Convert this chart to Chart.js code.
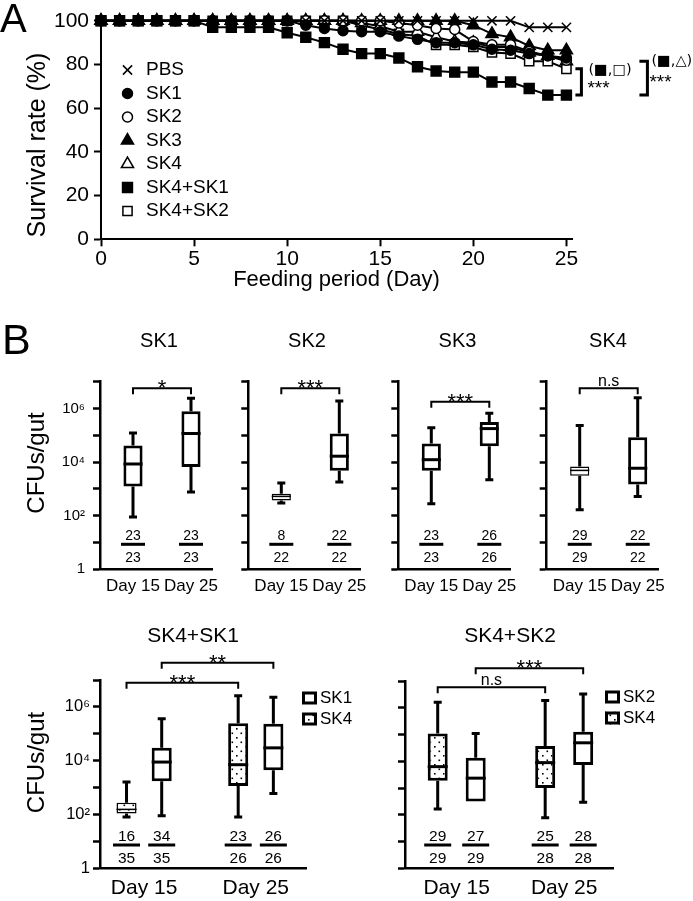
<!DOCTYPE html>
<html>
<head>
<meta charset="utf-8">
<script src="https://cdn.jsdelivr.net/npm/chart.js@4.4.1/dist/chart.umd.min.js"></script>
<style>
  body { margin: 0; background: #fff; }
  #page { position: relative; width: 693px; height: 901px; overflow: hidden; font-family: "Liberation Sans", Arial, sans-serif; }
  #page canvas { position: absolute; }
  .panel { position: absolute; line-height: 1; color: #000; }
</style>
</head>
<body>
<div id="page">
  <canvas id="survival" width="693" height="300" style="left:0;top:0"></canvas>
  <canvas id="cfuSK1" width="225" height="300" style="left:0;top:300px"></canvas>
  <canvas id="cfuSK2" width="150" height="300" style="left:225px;top:300px"></canvas>
  <canvas id="cfuSK3" width="150" height="300" style="left:375px;top:300px"></canvas>
  <canvas id="cfuSK4" width="168" height="300" style="left:525px;top:300px"></canvas>
  <canvas id="cfuMix1" width="360" height="301" style="left:0;top:600px"></canvas>
  <canvas id="cfuMix2" width="333" height="301" style="left:360px;top:600px"></canvas>
  <div class="panel" style="left:0;top:-2px;font-size:40px">A</div>
  <div class="panel" style="left:2px;top:318px;font-size:43px">B</div>
</div>
<script>
const FONT = '"Liberation Sans", Arial, sans-serif';
Chart.defaults.font.family = FONT;
Chart.defaults.color = '#000';
Chart.defaults.animation = false;

// ---------- A: survival rate (%) by feeding day ----------
const days = [0, 1, 2, 3, 4, 5, 6, 7, 8, 9, 10, 11, 12, 13, 14, 15, 16, 17, 18, 19, 20, 21, 22, 23, 24, 25];
const dayTicks = [0, 5, 10, 15, 20, 25];
const survivalTicks = [0, 20, 40, 60, 80, 100];

const survPBS   = [100, 100, 100, 100, 100, 100, 100, 100, 100, 100, 100, 100, 100, 100, 100, 100, 100, 100, 100, 100, 100, 100, 100, 97, 97, 97];
const survSK1   = [100, 100, 100, 100, 100, 100, 100, 100, 100, 100, 100, 98, 96.5, 95.5, 95, 95, 93, 91.5, 90, 90, 89, 87, 86.5, 85, 84, 83];
const survSK2   = [100, 100, 100, 100, 100, 100, 100, 100, 100, 100, 100, 100, 100, 100, 100, 100, 99, 98, 96.5, 96, 90.5, 89, 89, 86, 84, 82];
const survSK3   = [100, 100, 100, 100, 100, 100, 100, 100, 100, 100, 100, 100, 100, 100, 100, 100, 100, 100, 100, 100, 98, 94, 92.5, 88.5, 86.5, 86.5];
const survSK4   = [100, 100, 100, 100, 100, 100, 100, 100, 100, 100, 100, 100, 100, 100, 99, 97.5, 95, 95, 92.5, 90.5, 90, 88, 88, 85.5, 84, 81.5];
const survMix1  = [100, 100, 100, 100, 100, 100, 97, 97, 97, 97, 94.5, 92.5, 90, 87, 85, 85, 83, 79, 77, 76.5, 76.5, 72, 72, 69, 66, 66];
const survMix2  = [100, 100, 100, 100, 100, 100, 100, 100, 100, 100, 100, 100, 100, 100, 98, 96, 94, 93, 89, 89, 88, 85.5, 85, 81.5, 81.5, 78];

const survivalSeries = [
  { label: 'PBS',     values: survPBS,  style: 'crossRot', fill: '#000', r: 6.5 },
  { label: 'SK1',     values: survSK1,  style: 'circle',   fill: '#000', r: 5 },
  { label: 'SK2',     values: survSK2,  style: 'circle',   fill: '#fff', r: 5 },
  { label: 'SK3',     values: survSK3,  style: 'triangle', fill: '#000', r: 7 },
  { label: 'SK4',     values: survSK4,  style: 'triangle', fill: '#fff', r: 7 },
  { label: 'SK4+SK1', values: survMix1, style: 'rect',     fill: '#000', r: 7 },
  { label: 'SK4+SK2', values: survMix2, style: 'rect',     fill: '#fff', r: 6.5 }
];

const survivalDeco = {
  id: 'survivalDeco',
  afterDatasetsDraw(chart) {
    const { ctx } = chart;
    const { x, y } = chart.scales;
    ctx.save();
    // legend
    chart.data.datasets.forEach((ds, i) => {
      const ly = 70 + i * 23.5;
      ctx.fillStyle = ds.pointBackgroundColor;
      ctx.strokeStyle = '#000';
      ctx.lineWidth = ds.pointBorderWidth;
      Chart.helpers.drawPoint(ctx, { pointStyle: ds.pointStyle, radius: ds.pointRadius, borderWidth: ds.pointBorderWidth, rotation: 0 }, 127.5, ly);
      ctx.fillStyle = '#000';
      ctx.font = '19px ' + FONT;
      ctx.textAlign = 'left';
      ctx.textBaseline = 'middle';
      ctx.fillText(ds.label, 146, ly);
    });
    // y axis title
    ctx.save();
    ctx.translate(38, 145);
    ctx.rotate(-Math.PI / 2);
    ctx.font = '25px ' + FONT;
    ctx.textAlign = 'center';
    ctx.fillText('Survival rate (%)', 0, 0);
    ctx.restore();
    // significance brackets at day 25
    const last = days.length - 1;
    const x25 = x.getPixelForValue(days[last]);
    const yLow = y.getPixelForValue(survMix1[last]);
    const yA = y.getPixelForValue(survMix2[last]);
    const yB = y.getPixelForValue(survSK4[last]);
    ctx.lineWidth = 3;
    ctx.beginPath();
    ctx.moveTo(x25 + 9, yA); ctx.lineTo(x25 + 15, yA); ctx.lineTo(x25 + 15, yLow); ctx.lineTo(x25 + 9, yLow);
    ctx.moveTo(x25 + 73, yB); ctx.lineTo(x25 + 81, yB); ctx.lineTo(x25 + 81, yLow); ctx.lineTo(x25 + 73, yLow);
    ctx.stroke();
    ctx.textAlign = 'left';
    ctx.font = '14.5px "DejaVu Sans", sans-serif';
    ctx.textBaseline = 'middle';
    ctx.fillText('(\u25A0,\u25A1)', x25 + 22, yA + 1);
    ctx.fillText('(\u25A0,\u25B3)', x25 + 85, yB);
    ctx.font = '19px ' + FONT;
    ctx.textBaseline = 'alphabetic';
    ctx.fillText('***', x25 + 21, yLow - 1);
    ctx.fillText('***', x25 + 83, yLow - 7);
    ctx.restore();
  }
};

new Chart(document.getElementById('survival'), {
  type: 'line',
  data: {
    datasets: survivalSeries.map(s => ({
      label: s.label,
      data: s.values.map((v, i) => ({ x: days[i], y: v })),
      borderColor: '#000',
      borderWidth: 2,
      pointStyle: s.style,
      pointRadius: s.r,
      pointBackgroundColor: s.fill,
      pointBorderColor: '#000',
      pointBorderWidth: 1.5,
      tension: 0,
      clip: false
    }))
  },
  options: {
    responsive: false,
    layout: { padding: { left: 0, top: 20.8, right: 121, bottom: 0 } },
    plugins: { legend: { display: false }, tooltip: { enabled: false } },
    scales: {
      x: {
        type: 'linear', min: 0, max: 25.3,
        afterBuildTicks: s => { s.ticks = dayTicks.map(v => ({ value: v })); },
        ticks: { font: { size: 21 }, padding: 0, maxRotation: 0 },
        grid: { drawOnChartArea: false, tickLength: 7, tickWidth: 2, color: '#000' },
        border: { width: 2, color: '#000' },
        title: { display: true, text: 'Feeding period (Day)', font: { size: 22 }, padding: { top: 0, bottom: 7 } },
        afterFit: s => { s.height = 60.7; s.paddingLeft = 0; s.paddingRight = 0; }
      },
      y: {
        min: 0, max: 100,
        afterBuildTicks: s => { s.ticks = survivalTicks.map(v => ({ value: v })); },
        ticks: { font: { size: 21 }, padding: 5 },
        grid: { drawOnChartArea: false, tickLength: 7, tickWidth: 2, color: '#000' },
        border: { width: 2, color: '#000' },
        afterFit: s => { s.width = 101; s.paddingTop = 0; s.paddingBottom = 0; }
      }
    }
  },
  plugins: [survivalDeco]
});

// ---------- B: CFUs/gut, five-number summaries [min, q1, median, q3, max] ----------
const sampleDays = ['Day 15', 'Day 25'];
const cfuTicks = [1, 10, 1e2, 1e3, 1e4, 1e5, 1e6, 1e7];
const cfuTickLabels = ['1', '', '10\u00B2', '', '10\u2074', '', '10\u2076', ''];

const sk1Day15 = [89, 1230, 8500, 41700, 123000];
const sk1Day25 = [760, 6600, 117000, 794000, 2400000];
const sk2Day15 = [295, 372, 525, 660, 1660];
const sk2Day25 = [1820, 4800, 16600, 117000, 1900000];
const sk3Day15 = [280, 4800, 12300, 49000, 190000];
const sk3Day25 = [2200, 39000, 178000, 316000, 660000];
const sk4Day15 = [166, 3100, 4900, 6900, 234000];
const sk4Day25 = [525, 1450, 5900, 85000, 2500000];

const mix1SK4Day15 = [81, 110, 155, 275, 1620];
const mix1SK4Day25 = [81, 1150, 7100, 245000, 2600000];
const mix1SK1Day15 = [89, 1740, 8900, 30000, 363000];
const mix1SK1Day25 = [600, 4400, 30000, 234000, 2300000];
const mix2SK4Day15 = [166, 1860, 6300, 110000, 1600000];
const mix2SK4Day25 = [78, 1000, 8900, 37000, 1860000];
const mix2SK2Day15 = [316, 316, 2340, 13500, 110000];
const mix2SK2Day25 = [295, 7200, 49000, 126000, 3300000];

// colonised flies / flies examined
const sk1Pos = [23, 23], sk1Tot = [23, 23];
const sk2Pos = [8, 22],  sk2Tot = [22, 22];
const sk3Pos = [23, 26], sk3Tot = [23, 26];
const sk4Pos = [29, 22], sk4Tot = [29, 22];
const mix1SK4Pos = [16, 23], mix1SK4Tot = [35, 26];
const mix1SK1Pos = [34, 26], mix1SK1Tot = [35, 26];
const mix2SK4Pos = [29, 25], mix2SK4Tot = [29, 28];
const mix2SK2Pos = [27, 28], mix2SK2Tot = [29, 28];

function makeDots() {
  const c = document.createElement('canvas');
  c.width = 9; c.height = 9;
  const g = c.getContext('2d');
  g.fillStyle = '#fff'; g.fillRect(0, 0, 9, 9);
  g.fillStyle = '#000';
  g.fillRect(2, 2, 1.6, 1.6);
  g.fillRect(6.5, 6.5, 1.6, 1.6);
  return g.createPattern(c, 'repeat');
}
const dots = makeDots();

const narrow = b => b[3] / b[1] < 3.2;

function boxDeco(o) {
  return {
    id: 'boxDeco',
    beforeDatasetsDraw(chart) {
      const { ctx } = chart;
      const y = chart.scales.y;
      ctx.save();
      ctx.strokeStyle = '#000';
      ctx.lineWidth = 3;
      chart.data.datasets.forEach((ds, di) => {
        chart.getDatasetMeta(di).data.forEach((bar, i) => {
          const [lo, q1, , q3, hi] = ds.stats[i];
          const x = bar.x;
          ctx.beginPath();
          ctx.moveTo(x, y.getPixelForValue(q3)); ctx.lineTo(x, y.getPixelForValue(hi));
          ctx.moveTo(x - 4, y.getPixelForValue(hi)); ctx.lineTo(x + 4, y.getPixelForValue(hi));
          if (lo < q1) {
            ctx.moveTo(x, y.getPixelForValue(q1)); ctx.lineTo(x, y.getPixelForValue(lo));
            ctx.moveTo(x - 4, y.getPixelForValue(lo)); ctx.lineTo(x + 4, y.getPixelForValue(lo));
          }
          ctx.stroke();
        });
      });
      ctx.restore();
    },
    afterDatasetsDraw(chart) {
      const { ctx, chartArea } = chart;
      const y = chart.scales.y;
      ctx.save();
      ctx.strokeStyle = '#000';
      ctx.fillStyle = '#000';
      const metas = chart.data.datasets.map((ds, di) => chart.getDatasetMeta(di));
      chart.data.datasets.forEach((ds, di) => {
        metas[di].data.forEach((bar, i) => {
          const b = ds.stats[i];
          // median
          ctx.lineWidth = narrow(b) ? 1.5 : 3;
          const ym = y.getPixelForValue(b[2]);
          ctx.beginPath();
          ctx.moveTo(bar.x - bar.width / 2, ym); ctx.lineTo(bar.x + bar.width / 2, ym);
          ctx.stroke();
          // fraction
          const ly = chartArea.bottom - o.fracOff;
          ctx.fillRect(bar.x - o.fracW / 2, ly - 1.5, o.fracW, 3);
          ctx.font = o.fracSize + 'px ' + FONT;
          ctx.textAlign = 'center';
          ctx.textBaseline = 'alphabetic';
          ctx.fillText(String(ds.positive[i]), bar.x, ly - 4.5);
          ctx.fillText(String(ds.total[i]), bar.x, ly + 18);
        });
      });
      // significance brackets
      ctx.lineWidth = 2;
      o.brackets.forEach(([da, ia, db, ib, off, text]) => {
        const xa = metas[da].data[ia].x, xb = metas[db].data[ib].x;
        const yb = chartArea.top + off;
        ctx.beginPath();
        ctx.moveTo(xa, yb + 6); ctx.lineTo(xa, yb); ctx.lineTo(xb, yb); ctx.lineTo(xb, yb + 6);
        ctx.stroke();
        ctx.textAlign = 'center';
        ctx.textBaseline = 'alphabetic';
        if (text.includes('*')) {
          ctx.font = '22px ' + FONT;
          ctx.fillText(text, (xa + xb) / 2, yb + 7);
        } else {
          ctx.font = '16px ' + FONT;
          ctx.fillText(text, (xa + xb) / 2, yb - 2);
        }
      });
      // panel title
      ctx.font = o.titleSize + 'px ' + FONT;
      ctx.textAlign = 'center';
      ctx.textBaseline = 'middle';
      ctx.fillText(o.title, o.titleX, o.titleY);
      // y axis title
      if (o.yTitle) {
        ctx.save();
        ctx.translate(o.yTitle[0], o.yTitle[1]);
        ctx.rotate(-Math.PI / 2);
        ctx.font = '24px ' + FONT;
        ctx.fillText('CFUs/gut', 0, 0);
        ctx.restore();
      }
      // legend (mixed infections)
      if (o.legend) {
        const [lx, ly0] = o.legend;
        [...chart.data.datasets].reverse().forEach((ds, k) => {
          const ly = ly0 + k * 21;
          ctx.fillStyle = ds.backgroundColor;
          ctx.fillRect(lx, ly - 6.5, 15, 13);
          ctx.lineWidth = 3;
          ctx.strokeRect(lx + 1.5, ly - 5, 12, 10);
          ctx.fillStyle = '#000';
          ctx.font = '17px ' + FONT;
          ctx.textAlign = 'left';
          ctx.textBaseline = 'middle';
          ctx.fillText(ds.label, lx + 18, ly);
        });
      }
      ctx.restore();
    }
  };
}

function cfuChart(id, o) {
  const canvas = document.getElementById(id);
  return new Chart(canvas, {
    type: 'bar',
    data: {
      datasets: o.series.map(s => ({
        label: s.label,
        data: s.boxes.map((b, i) => ({ x: i, y: [b[1], b[3]] })),
        stats: s.boxes,
        positive: s.positive,
        total: s.total,
        backgroundColor: s.dotted ? dots : '#fff',
        borderColor: '#000',
        borderWidth: c => (narrow(s.boxes[c.dataIndex]) ? 1.5 : 3),
        borderSkipped: false,
        categoryPercentage: o.catPct,
        barPercentage: o.barPct
      }))
    },
    options: {
      responsive: false,
      layout: { padding: { left: 0, top: o.top, right: canvas.width - o.left - o.width, bottom: 0 } },
      plugins: { legend: { display: false }, tooltip: { enabled: false } },
      scales: {
        x: {
          type: 'linear', min: o.xMin, max: o.xMax, offset: false,
          afterBuildTicks: s => { s.ticks = sampleDays.map((d, i) => ({ value: i })); },
          ticks: { callback: (v, i) => sampleDays[i], font: { size: o.daySize }, padding: 7, maxRotation: 0, autoSkip: false },
          grid: { display: false, drawTicks: false, offset: false },
          border: { width: 2.5, color: '#000' },
          afterFit: s => { s.height = canvas.height - o.bottom; s.paddingLeft = 0; s.paddingRight = 0; }
        },
        y: {
          type: 'logarithmic', min: 1, max: 1e7,
          afterBuildTicks: s => { s.ticks = cfuTicks.map(v => ({ value: v })); },
          ticks: { callback: (v, i) => (o.yLabels ? cfuTickLabels[i] : ''), font: { size: o.tickSize }, padding: o.tickPad },
          grid: { drawOnChartArea: false, tickLength: 7, tickWidth: 2.5, color: '#000' },
          border: { width: 2.5, color: '#000' },
          afterFit: s => { s.width = o.left; s.paddingTop = 0; s.paddingBottom = 0; }
        }
      }
    },
    plugins: [boxDeco(o)]
  });
}

const rowOne = { top: 81.7, bottom: 269.3, width: 112, xMin: -0.569, xMax: 1.362, catPct: 1, barPct: 0.33,
  daySize: 17, tickSize: 15, tickPad: 8, titleSize: 20, titleY: 41.7, fracOff: 25, fracW: 24, fracSize: 14 };

cfuChart('cfuSK1', { ...rowOne, left: 100, yLabels: true, yTitle: [37, 163], title: 'SK1', titleX: 159,
  series: [{ label: 'SK1', boxes: [sk1Day15, sk1Day25], positive: sk1Pos, total: sk1Tot }],
  brackets: [[0, 0, 0, 1, 6.6, '*']] });
cfuChart('cfuSK2', { ...rowOne, left: 23.3, title: 'SK2', titleX: 82,
  series: [{ label: 'SK2', boxes: [sk2Day15, sk2Day25], positive: sk2Pos, total: sk2Tot }],
  brackets: [[0, 0, 0, 1, 6.6, '***']] });
cfuChart('cfuSK3', { ...rowOne, left: 23.3, title: 'SK3', titleX: 82.5,
  series: [{ label: 'SK3', boxes: [sk3Day15, sk3Day25], positive: sk3Pos, total: sk3Tot }],
  brackets: [[0, 0, 0, 1, 20, '***']] });
cfuChart('cfuSK4', { ...rowOne, left: 21.7, title: 'SK4', titleX: 83,
  series: [{ label: 'SK4', boxes: [sk4Day15, sk4Day25], positive: sk4Pos, total: sk4Tot }],
  brackets: [[0, 0, 0, 1, 6.6, 'n.s']] });

const rowTwo = { bottom: 268.3, daySize: 21, tickSize: 16.5, tickPad: 3, titleSize: 21, titleY: 36.7,
  fracOff: 23.3, fracW: 27, fracSize: 15.5 };

cfuChart('cfuMix1', { ...rowTwo, left: 100, top: 80, width: 206.7, xMin: -0.395, xMax: 1.456, catPct: 0.63, barPct: 0.57,
  yLabels: true, yTitle: [37.5, 162.5], title: 'SK4+SK1', titleX: 193, legend: [302, 98],
  series: [
    { label: 'SK4', dotted: true, boxes: [mix1SK4Day15, mix1SK4Day25], positive: mix1SK4Pos, total: mix1SK4Tot },
    { label: 'SK1', boxes: [mix1SK1Day15, mix1SK1Day25], positive: mix1SK1Pos, total: mix1SK1Tot }
  ],
  brackets: [[0, 0, 0, 1, 2.7, '***'], [1, 0, 1, 1, -17.3, '**']] });
cfuChart('cfuMix2', { ...rowTwo, left: 45, top: 81, width: 208.3, xMin: -0.481, xMax: 1.457, catPct: 0.707, barPct: 0.526,
  title: 'SK4+SK2', titleX: 150, legend: [245, 97],
  series: [
    { label: 'SK4', dotted: true, boxes: [mix2SK4Day15, mix2SK4Day25], positive: mix2SK4Pos, total: mix2SK4Tot },
    { label: 'SK2', boxes: [mix2SK2Day15, mix2SK2Day25], positive: mix2SK2Pos, total: mix2SK2Tot }
  ],
  brackets: [[0, 0, 0, 1, 6.3, 'n.s'], [1, 0, 1, 1, -12.7, '***']] });
</script>
</body>
</html>
